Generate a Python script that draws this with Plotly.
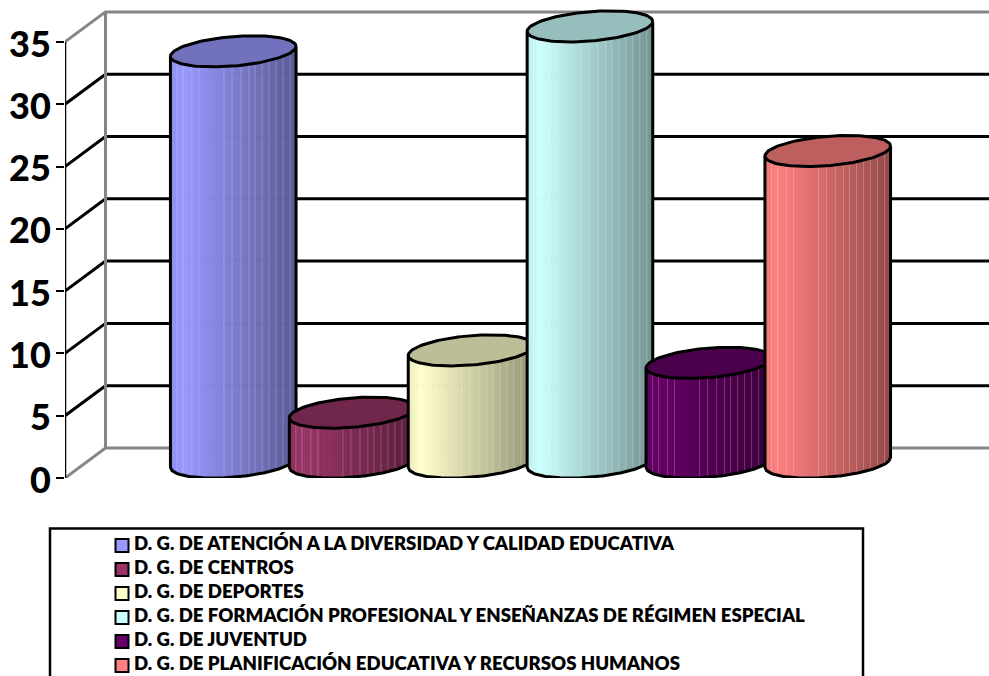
import numpy as np
import plotly.graph_objects as go

# ---- data ----
series_names = [
    "D. G. DE ATENCIÓN A LA DIVERSIDAD Y CALIDAD EDUCATIVA",
    "D. G. DE CENTROS",
    "D. G. DE DEPORTES",
    "D. G. DE FORMACIÓN PROFESIONAL Y ENSEÑANZAS DE RÉGIMEN ESPECIAL",
    "D. G. DE JUVENTUD",
    "D. G. DE PLANIFICACIÓN EDUCATIVA Y RECURSOS HUMANOS",
]
series_values = [33, 4, 9, 35, 8, 25]
series_colors = ["#9999FF", "#993366", "#FFFFCC", "#CCFFFF", "#660066", "#FF8080"]
tick_values = [0, 5, 10, 15, 20, 25, 30, 35]

# ---- geometry of the fake 3D (axis units) ----
W, H = 989, 676
PX_PER_CAT = 118.9
PX_PER_UNIT = 12.46
FIRST_CENTER_PX = 233.25
AXIS_PX = 65
PLOT_BOTTOM_PX = 478
HALF_W = 62.8 / PX_PER_CAT
BASE = 15.5 / PX_PER_UNIT
SLANT = 5.0 / PX_PER_UNIT
MINOR = 14.7 / PX_PER_UNIT
WALL_DX = 40.5 / PX_PER_CAT
WALL_DY = 30.0 / PX_PER_UNIT
STRIP_FRACTIONS = np.linspace(0, 1, 43)
STRIPE_FRACTIONS = [0.052, 0.1, 0.171, 0.227, 0.426, 0.49, 0.562, 0.625,
                    0.673, 0.729, 0.785, 0.84, 0.896, 0.952]

x_min = (AXIS_PX - FIRST_CENTER_PX) / PX_PER_CAT
x_max = (W - FIRST_CENTER_PX) / PX_PER_CAT
y_max = PLOT_BOTTOM_PX / PX_PER_UNIT
x_wall = x_min + WALL_DX
x_end = x_max


def shade(color, f, white=0.0):
    rgb = [int(color[i:i + 2], 16) for i in (1, 3, 5)]
    rgb = [min(255, c * f) for c in rgb]
    rgb = [c + (255 - c) * white for c in rgb]
    return "rgb(%d,%d,%d)" % tuple(round(c) for c in rgb)


def body_factor(u):
    if u < 0.1:
        return 0.93 + 0.7 * u
    return 1.0 - 0.42 * (u - 0.1) / 0.9


def front_edge(center, u):
    return center + SLANT * u - MINOR * np.sqrt(np.clip(1 - u ** 2, 0, 1))


fig = go.Figure()


def line(xs, ys, color, width):
    fig.add_trace(go.Scatter(x=xs, y=ys, mode="lines", xaxis="x", yaxis="y",
                             line=dict(color=color, width=width), cliponaxis=False,
                             hoverinfo="skip", showlegend=False))


# walls and gridlines
GRAY = "#868686"
for v in tick_values:
    c = GRAY if v in (tick_values[0], tick_values[-1]) else "#000000"
    line([x_min, x_wall, x_end], [v, v + WALL_DY, v + WALL_DY], c, 3)
line([x_wall, x_wall], [WALL_DY, tick_values[-1] + WALL_DY], GRAY, 3)
line([x_min, x_min], [tick_values[0], tick_values[-1]], "#000000", 2.5)

# cylinders
for i, (name, value, color) in enumerate(zip(series_names, series_values, series_colors)):
    top = value + BASE
    for a, b in zip(STRIP_FRACTIONS[:-1], STRIP_FRACTIONS[1:]):
        ua = np.linspace(2 * a - 1, 2 * b - 1, 3)
        xs = i + ua * HALF_W
        overlap = 0.6 / PX_PER_CAT if b < 1 else 0
        px = np.r_[xs, xs[-1] + overlap, xs[-1] + overlap, xs[::-1]]
        py = np.r_[front_edge(top, ua), front_edge(top, ua[-1]),
                   front_edge(BASE, ua[-1]), front_edge(BASE, ua[::-1])]
        fig.add_trace(go.Scatter(x=px, y=py, mode="lines", fill="toself",
                                 fillcolor=shade(color, body_factor((a + b) / 2)),
                                 line=dict(width=0), hoverinfo="skip", showlegend=False))
    for s in STRIPE_FRACTIONS:
        u = 2 * s - 1
        line([i + u * HALF_W] * 2, [front_edge(top, u), front_edge(BASE, u)],
             shade(color, body_factor(s), 0.22), 1)

    t = np.linspace(0, 2 * np.pi, 121)
    ex = i + HALF_W * np.cos(t)
    ey = top + SLANT * np.cos(t) + MINOR * np.sin(t)
    fig.add_trace(go.Scatter(x=ex, y=ey, mode="lines", fill="toself",
                             fillcolor=shade(color, 0.74),
                             line=dict(color="#000000", width=3),
                             hoverinfo="skip", showlegend=False))
    u = np.linspace(-1, 1, 81)
    ox = np.r_[i - HALF_W, i + u * HALF_W, i + HALF_W]
    oy = np.r_[front_edge(top, -1.0), front_edge(BASE, u), front_edge(top, 1.0)]
    line(ox, oy, "#000000", 3)

# legend rows on their own axes
rows = list(range(len(series_names)))
for r, name, color in zip(rows, series_names, series_colors):
    fig.add_trace(go.Scatter(x=[122], y=[r], mode="markers", xaxis="x2", yaxis="y2",
                             marker=dict(symbol="square", size=13, color=color,
                                         line=dict(color="#000000", width=2)),
                             name=name, hoverinfo="name", showlegend=False, cliponaxis=False))
    fig.add_trace(go.Scatter(x=[134], y=[r], mode="text", xaxis="x2", yaxis="y2",
                             text=[name], textposition="middle right", cliponaxis=False,
                             textfont=dict(family="Lato", size=18.58, color="#000000", weight=800),
                             hoverinfo="skip", showlegend=False))

ROW_H = 24.0
rows_top_px = 532
ROW0_PX = 545.5
fig.update_layout(
    width=W, height=H, autosize=False, showlegend=False,
    margin=dict(l=0, r=0, t=0, b=0, pad=0, autoexpand=False),
    paper_bgcolor="#FFFFFF", plot_bgcolor="rgba(0,0,0,0)",
    xaxis=dict(domain=[AXIS_PX / W, 1], range=[x_min, x_max], visible=False, fixedrange=True,
               automargin=False),
    yaxis=dict(domain=[1 - PLOT_BOTTOM_PX / H, 1], range=[0, y_max], tickvals=tick_values,
               ticks="outside", ticklen=8, tickwidth=2, tickcolor="#000000",
               showgrid=False, zeroline=False, showline=False, anchor="x",
               ticklabelstandoff=-2, ticklabelshift=2, fixedrange=True, automargin=False,
               tickfont=dict(family="Lato", size=36, color="#000000", weight=900)),
    xaxis2=dict(domain=[0, 1], range=[0, W], visible=False, anchor="y2", fixedrange=True,
                automargin=False),
    yaxis2=dict(domain=[0, (H - rows_top_px) / H], anchor="x2", visible=False, fixedrange=True,
                automargin=False,
                range=[(H - ROW0_PX) / ROW_H, (rows_top_px - ROW0_PX) / ROW_H]),
    shapes=[dict(type="rect", xref="paper", yref="paper", x0=50 / W, x1=863 / W,
                 y0=-0.02, y1=1 - 528.5 / H, line=dict(color="#000000", width=2.5), layer="below")],
)
fig.write_html("out.html", post_script="document.body.style.margin='0';",
               config=dict(displayModeBar=False))
